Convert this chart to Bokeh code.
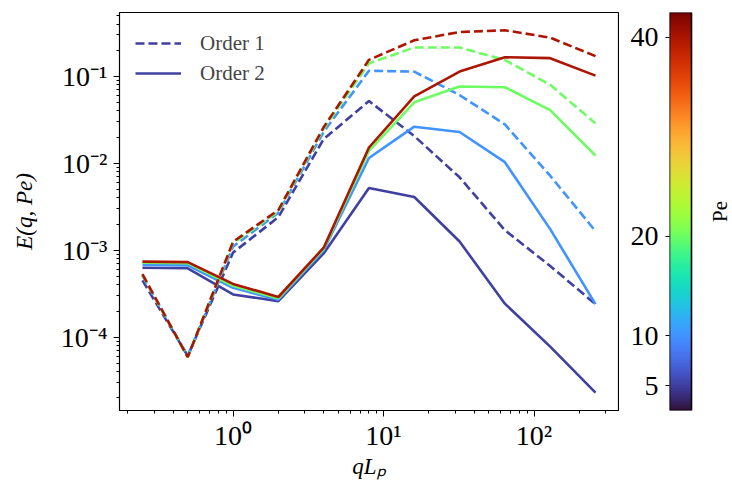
import numpy as np
from bokeh.plotting import figure
from bokeh.layouts import row
from bokeh.models import (Legend, LegendItem, FixedTicker, LinearColorMapper,
                          CustomJSTickFormatter, LogTicker)
from bokeh.core.properties import value
from bokeh.palettes import Turbo256
from bokeh.embed import file_html
from bokeh.resources import INLINE

# ---- data ----
q = [0.25, 0.5, 1, 2, 4, 8, 16, 32, 64, 128, 256]
pe = [5, 10, 20, 40]

order1_pe5 = [4.5e-4, 6.1e-5, 9.4e-4, 2.4e-3, 1.9e-2, 5.2e-2, 2.06e-2, 6.9e-3, 1.7e-3, 6.6e-4, 2.4e-4]
order1_pe10 = [5.1e-4, 6.0e-5, 1.1e-3, 2.7e-3, 2.3e-2, 0.116, 0.1135, 0.061, 0.028, 7.2e-3, 1.66e-3]
order1_pe20 = [5.2e-4, 5.9e-5, 1.2e-3, 2.8e-3, 2.5e-2, 0.141, 0.215, 0.215, 0.154, 0.080, 0.0288]
order1_pe40 = [5.3e-4, 5.9e-5, 1.25e-3, 2.9e-3, 2.6e-2, 0.155, 0.26, 0.324, 0.339, 0.279, 0.171]

order2_pe5 = [6.3e-4, 6.2e-4, 3.1e-4, 2.6e-4, 9.2e-4, 5.2e-3, 4.1e-3, 1.26e-3, 2.43e-4, 7.8e-5, 2.3e-5]
order2_pe10 = [6.8e-4, 6.7e-4, 3.7e-4, 2.7e-4, 1.0e-3, 0.0115, 0.0264, 0.0229, 0.0103, 1.75e-3, 2.4e-4]
order2_pe20 = [7.2e-4, 7.1e-4, 3.9e-4, 2.8e-4, 1.04e-3, 0.0139, 0.0503, 0.0766, 0.075, 0.041, 0.0123]
order2_pe40 = [7.4e-4, 7.3e-4, 4.1e-4, 2.9e-4, 1.07e-3, 0.0152, 0.059, 0.1135, 0.166, 0.162, 0.102]

order1 = [order1_pe5, order1_pe10, order1_pe20, order1_pe40]
order2 = [order2_pe5, order2_pe10, order2_pe20, order2_pe40]

cbar_ticks = [5, 10, 20, 40]
cbar_title = "Pe"
pe_low, pe_high = 2.5, 42.5

FONT = "Liberation Serif"

mapper = LinearColorMapper(palette=Turbo256, low=pe_low, high=pe_high)


def pe_color(v):
    i = int(round((v - pe_low) / (pe_high - pe_low) * 255))
    return Turbo256[max(0, min(255, i))]


sup_js = """
const e = Math.round(Math.log10(tick));
const m = {'-':'\u207b','0':'\u2070','1':'\u00b9','2':'\u00b2','3':'\u00b3','4':'\u2074','5':'\u2075','6':'\u2076','7':'\u2077','8':'\u2078','9':'\u2079'};
return '10' + String(e).split('').map(c => m[c]).join('');
"""

p = figure(width=619, height=481, x_axis_type="log", y_axis_type="log",
           x_range=(0.176, 364), y_range=(1.435e-5, 0.543),
           output_backend="svg", toolbar_location=None,
           min_border_left=119, min_border_right=1, min_border_top=12, min_border_bottom=67)
p.grid.visible = False
p.outline_line_color = "black"
p.outline_line_width = 1.2
p.background_fill_color = "white"
p.border_fill_color = "white"

for ax in (p.xaxis[0], p.yaxis[0]):
    ax.formatter = CustomJSTickFormatter(code=sup_js)
    ax.major_label_text_font = FONT
    ax.major_label_text_font_size = "28px"
    ax.major_label_text_color = "black"
    ax.major_tick_out = 6
    ax.major_tick_in = 0
    ax.minor_tick_out = 3
    ax.minor_tick_in = 0
    ax.axis_line_color = "black"
    ax.major_tick_line_color = "black"
    ax.minor_tick_line_color = "black"
    ax.ticker = LogTicker(num_minor_ticks=10)
    ax.axis_label_text_font = FONT
    ax.axis_label_text_font_size = "23px"
    ax.axis_label_text_font_style = "italic"
    ax.axis_label_text_color = "black"

p.xaxis.axis_label = "qLₚ"
p.yaxis.axis_label = "E(q, Pe)"
p.xaxis.major_label_standoff = 3
p.xaxis.axis_label_standoff = 0
p.yaxis.major_label_standoff = 6
p.yaxis.axis_label_standoff = 21

renders1 = []
renders2 = []
for v, y1, y2 in zip(pe, order1, order2):
    c = pe_color(v)
    r1 = p.line(q, y1, line_color=c, line_width=2.6, line_dash="9 4")
    r2 = p.line(q, y2, line_color=c, line_width=2.6)
    renders1.append(r1)
    renders2.append(r2)

legend = Legend(items=[LegendItem(label="Order 1", renderers=[renders1[0]]),
                       LegendItem(label="Order 2", renderers=[renders2[0]])],
                location="top_left", margin=16, padding=0, spacing=0,
                glyph_width=46, glyph_height=30, label_height=30, label_standoff=19,
                label_text_font=FONT, label_text_font_size="21px",
                border_line_color=None, background_fill_alpha=0)
p.add_layout(legend)

# ---- colorbar figure (bar occupies x in [0, 1], title text to its right) ----
bar_px = 22
frame_px = 113 - 50
cb = figure(width=113, height=481, x_range=(0, frame_px / bar_px), y_range=(pe_low, pe_high),
            output_backend="svg", toolbar_location=None, x_axis_location=None,
            min_border_left=50, min_border_right=0, min_border_top=12, min_border_bottom=67)
cb.grid.visible = False
cb.outline_line_color = None
cb.border_fill_color = "white"
cb.background_fill_color = "white"
grad = np.linspace(pe_low, pe_high, 256).reshape(256, 1)
cb.image(image=[grad], x=0, y=pe_low, dw=1, dh=pe_high - pe_low, color_mapper=mapper)
cb.quad(left=[0], right=[1], bottom=[pe_low], top=[pe_high], fill_color=None,
        line_color="black", line_width=1.6)
cb.text(x=[50 / bar_px], y=[(pe_low + pe_high) / 2], text=[cbar_title], angle=np.pi / 2,
        text_align="center", text_baseline="middle", text_font=value(FONT),
        text_font_size="21px", text_color="black")
ya = cb.yaxis[0]
ya.ticker = FixedTicker(ticks=cbar_ticks)
ya.major_label_text_font = FONT
ya.major_label_text_font_size = "28px"
ya.major_label_text_color = "black"
ya.major_tick_out = 4
ya.major_tick_in = 0
ya.major_tick_line_color = "black"
ya.minor_tick_line_color = None
ya.axis_line_color = None
ya.major_label_standoff = 7

layout = row(p, cb)
open("out.html", "w").write(file_html(layout, INLINE))
